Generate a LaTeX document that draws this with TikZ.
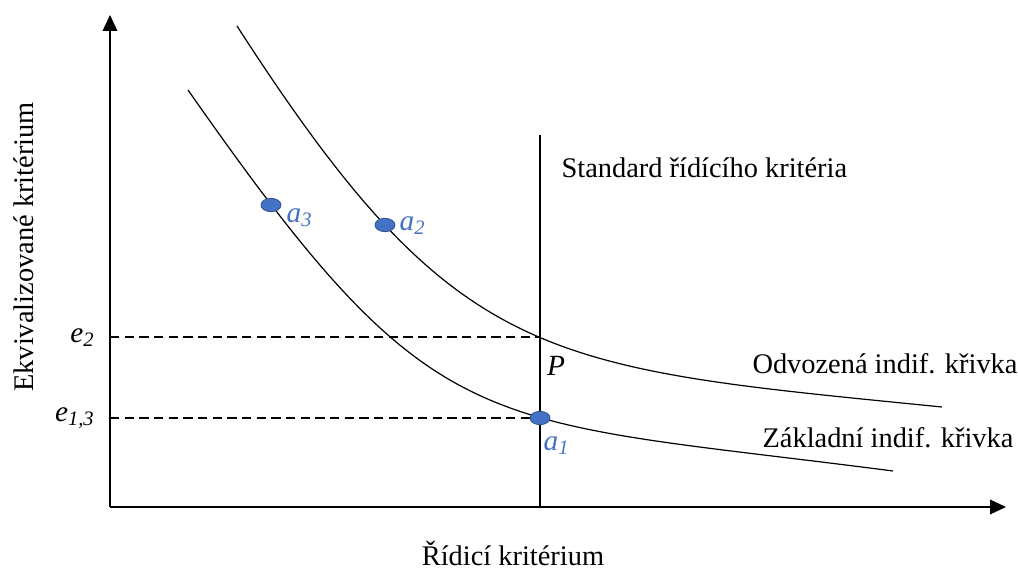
\documentclass[tikz,border=0pt]{standalone}
\usepackage{fontspec}
\setmainfont{Liberation Serif}
\usetikzlibrary{arrows.meta,positioning,shapes.geometric}
\definecolor{ptblue}{RGB}{68,114,196}
\definecolor{ptedge}{RGB}{47,82,143}

\begin{document}
\begin{tikzpicture}[x=0.75pt,y=-0.75pt,
  axis/.style={-{Triangle[length=12pt,width=11pt]},line width=1pt},
  guide/.style={dashed,dash pattern=on 7pt off 4pt,line width=0.8pt},
  curve/.style={line width=0.9pt},
  lbl/.style={font=\fontsize{21.3}{24}\selectfont,inner sep=1pt},
  itlab/.style={font=\fontsize{22}{24}\selectfont\itshape,inner sep=1pt},
  pnt/.style={ellipse,draw=ptedge,fill=ptblue,minimum width=15pt,
    minimum height=10pt,inner sep=0pt,line width=0.6pt},
  ptlbl/.style={font=\fontsize{22}{24}\selectfont\itshape,text=ptblue,inner sep=1pt}
]
  \useasboundingbox (0,0) rectangle (1018,570);
  % axes
  \coordinate (o) at (110,507);
  \coordinate (ytop) at (110,15);
  \coordinate (xend) at (1006,507);
  \draw[axis] (o) -- (ytop);
  \draw[axis] (o) -- (xend);
  % standard line
  \coordinate (sbot) at (540,507);
  \coordinate (stop) at (540,135);
  \draw[line width=0.9pt] (sbot) -- (stop);
  % curves
  \coordinate (c1s) at (237,26);
  \coordinate (c1e) at (942,407);
  \coordinate (c2s) at (188,90);
  \coordinate (c2e) at (893,471);
  \draw[curve] (c1s) .. controls (457,367) and (542,367) .. (c1e);
  \draw[curve] (c2s) .. controls (438,447.5) and (473,416.4) .. (c2e);
  % guides
  \coordinate (e2l) at (110,337);
  \coordinate (e2r) at (540,337);
  \coordinate (e13l) at (110,418);
  \coordinate (e13r) at (540,418);
  \draw[guide] (e2l) -- (e2r);
  \draw[guide] (e13l) -- (e13r);
  % points
  \node[pnt] (a1) at (540,418) {};
  \node[pnt] (a2) at (385,225) {};
  \node[pnt] (a3) at (271,205) {};
  \node[ptlbl,anchor=west] (a1l) at (542,446) {a\textsubscript{1}};
  \node[ptlbl,anchor=west] (a2l) at (398,226) {a\textsubscript{2}};
  \node[ptlbl,anchor=west] (a3l) at (285,218) {a\textsubscript{3}};
  \node[itlab] (p) at (556,366) {P};
  \node[itlab,anchor=east] (e2) at (96,338) {e\textsubscript{2}};
  \node[itlab,anchor=east] (e13) at (96,418) {e\textsubscript{1,3}};
  % texts
  \node[lbl,anchor=west] (std) at (560,168) {Standard řídícího kritéria};
  \node[lbl] (odv) at (885,364) {Odvozená indif. křivka};
  \node[lbl] (zak) at (888,438) {Základní indif. křivka};
  \node[lbl] (xlab) at (513,553) {Řídicí kritérium};
  \node[lbl,rotate=90] (ylab) at (24,247) {Ekvivalizované kritérium};
\end{tikzpicture}
\end{document}
